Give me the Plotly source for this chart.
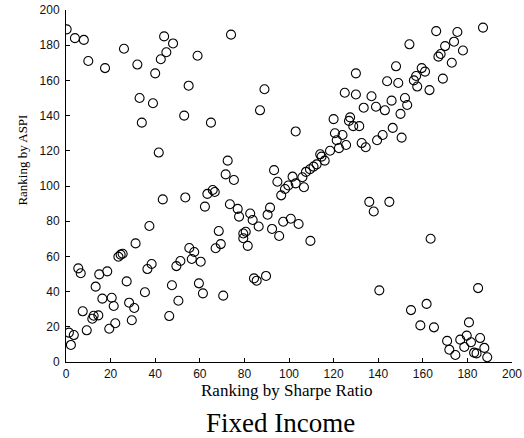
import plotly.graph_objects as go

# Fund rankings: position by Sharpe ratio vs. position by ASPI
sharpe_rank = [
    0.3, 4, 8, 10, 17.5, 26, 32, 44, 48, 45, 42.5, 40, 59, 55, 33, 39, 53, 34, 65,
    74, 130, 89, 87, 125, 130, 120, 103,
    187, 166, 175.5, 154, 174, 170, 178, 168, 167, 173, 148, 159.5, 161, 157, 156,
    169, 144, 149, 157.5, 163, 137, 152, 146, 153, 139, 133.5, 143, 150,
    127.4, 126.9, 128.8, 131.5, 146.5, 142, 139.5, 150.5, 132.6, 134.4,
    136, 145, 138, 163.5,
    120.6, 124, 121.4, 122.4, 125.6, 118.4, 114, 114.6, 116, 112.4, 111, 109.4,
    107.6, 106, 101.6, 103, 106.7, 99.7, 98.2, 96.5, 93.3, 94.8,
    72.5, 71.6, 75.3, 63.4, 65.8, 66.7, 62.3, 73.5, 77, 77.6, 82.6, 83.7, 86.4,
    91.5, 90.4, 97.4, 100.8, 104.3, 92.4, 95.6, 109.6, 68.5, 79.5, 80.6, 79.5,
    69.4, 67.1, 81.5,
    41.6, 43.4, 53.5, 37.4, 31.2, 55.3, 57.5, 56.4, 60.4, 59.6, 61.4,
    23.5, 24.5, 25.4, 5.5, 6.6, 14.9, 18.5, 38.4, 36.5, 49.5, 51.3, 27.2, 13.3,
    35.4, 47.5, 50.4, 16.3, 20.5, 21.4, 28.3, 30.6, 7.5, 12.4, 14.5, 11.8, 29.5,
    46.3, 9.3, 19.4, 22.1, 1.3, 3.5, 2.2,
    70.5, 84.3, 85.5, 89.7,
    140.5, 184.8, 161.7, 154.7, 158.9, 165, 180.7, 170.9, 176.8, 179.7, 181.6,
    185.7, 171.9, 178.6, 187.6, 174.6, 183, 184.1, 188.9,
]
aspi_rank = [
    189, 184, 183, 171, 167, 178, 169, 185, 181, 176, 172, 164, 174, 157, 150, 147, 140, 136, 136,
    186, 164, 155, 143, 153, 152, 138, 131,
    190, 188, 187.5, 180.5, 182, 179.5, 177, 175, 173.5, 170, 168, 167, 165, 162.5, 160,
    161, 159.5, 158.5, 156.5, 154.5, 151, 150, 148.5, 146, 145, 144.5, 143, 141,
    139, 137, 134, 134, 133, 129, 126, 127.5, 124.4, 122,
    91, 91, 85.5, 70,
    130, 129, 126, 121.5, 123.3, 120, 118, 116.7, 114.4, 112.3, 111, 109.5,
    108, 105, 105.3, 101.5, 99.3, 100.3, 98.3, 94.7, 109, 102.4,
    114.4, 106.6, 103.4, 95.5, 97.7, 96.6, 88.3, 89.6, 87, 82.6, 84.4, 80.7, 77,
    87.7, 83.7, 79.7, 81.4, 78.4, 75.6, 71.6, 68.8, 74.4, 73, 74, 70.3,
    67, 64.6, 66,
    119, 92.4, 93.5, 77.3, 67.4, 64.8, 62.5, 58.5, 57, 44.7, 39,
    59.8, 61, 61.5, 53.2, 50.4, 49.8, 51.5, 55.7, 52.8, 54.5, 57.4, 45.8, 42.8,
    39.6, 43.6, 34.8, 36, 36.5, 31.8, 33.7, 30.7, 28.8, 26.3, 26.5, 24.6, 23.7,
    26.1, 18, 18.9, 22, 16.7, 15.3, 9.7,
    37.7, 47.5, 46.2, 48.9,
    40.7, 42, 33, 29.5, 20.8, 19.7, 22.5, 12, 12.7, 15, 11.2,
    13.6, 7, 8.5, 8, 4, 5.3, 4.9, 2.7,
]
tick_vals = [0, 20, 40, 60, 80, 100, 120, 140, 160, 180, 200]

fig = go.Figure(
    go.Scatter(
        x=sharpe_rank,
        y=aspi_rank,
        mode="markers",
        marker=dict(
            symbol="circle-open",
            size=9,
            color="black",
            line=dict(width=1.1, color="black"),
        ),
        hoverinfo="x+y",
    )
)

axis_common = dict(
    range=[0, 200],
    tickvals=tick_vals,
    ticks="inside",
    ticklen=4,
    tickwidth=1,
    tickcolor="black",
    showline=True,
    linecolor="black",
    linewidth=1,
    mirror=False,
    showgrid=False,
    zeroline=False,
    automargin=False,
    tickfont=dict(family="Liberation Sans, Arial, sans-serif", size=12, color="#111111"),
)

fig.update_layout(
    width=524,
    height=438,
    margin=dict(l=66, r=12, t=10, b=76, autoexpand=False),
    paper_bgcolor="white",
    plot_bgcolor="white",
    showlegend=False,
    xaxis=dict(axis_common, ticklabelstandoff=1),
    yaxis=dict(axis_common, ticklabelstandoff=3),
    annotations=[
        dict(
            text="Ranking by Sharpe Ratio",
            xref="paper", yref="paper",
            x=0.494, y=-0.082,
            xanchor="center", yanchor="middle",
            showarrow=False,
            font=dict(family="Liberation Serif, Times New Roman, serif", size=17, color="black"),
        ),
        dict(
            text="Ranking by ASPI",
            xref="paper", yref="paper",
            x=-0.098, y=0.573,
            xanchor="center", yanchor="middle",
            textangle=-90,
            showarrow=False,
            font=dict(family="Liberation Serif, Times New Roman, serif", size=13, color="black"),
        ),
        dict(
            text="Fixed Income",
            xref="paper", yref="paper",
            x=0.48, y=-0.173,
            xanchor="center", yanchor="middle",
            showarrow=False,
            font=dict(family="Liberation Serif, Times New Roman, serif", size=27, color="black"),
        ),
    ],
)

fig.write_html("out.html")
